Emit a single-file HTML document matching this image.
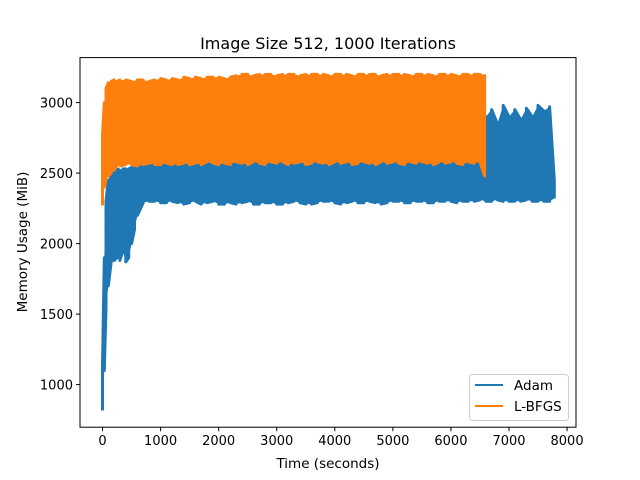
<!DOCTYPE html>
<html><head><meta charset="utf-8"><style>
body{margin:0;background:#fff;}
svg{display:block;font-family:"DejaVu Sans","Liberation Sans",sans-serif;}
</style></head><body>
<svg id="chart" width="640" height="480">
<rect width="640" height="480" fill="#fff"/>
<text x="328" y="49" text-anchor="middle" font-size="16">Image Size 512, 1000 Iterations</text>
<g id="plot"></g>
<rect x="80" y="57.6" width="496" height="369.6" fill="none" stroke="#000" stroke-width="1"/>
<g id="axes"></g>
<text x="328" y="468" text-anchor="middle" font-size="13.5">Time (seconds)</text>
<text transform="translate(27,242) rotate(-90)" text-anchor="middle" font-size="13.5">Memory Usage (MiB)</text>
<g>
<rect x="469.5" y="374.5" width="99" height="46" rx="3" fill="#fff" fill-opacity="0.8" stroke="#ccc"/>
<g><line x1="475" y1="385" x2="503" y2="385" stroke="#1f77b4" stroke-width="2"/><text x="514" y="390" font-size="13.5">Adam</text></g>
<g><line x1="475" y1="406" x2="503" y2="406" stroke="#ff7f0e" stroke-width="2"/><text x="514" y="411" font-size="13.5">L-BFGS</text></g>
</g>
</svg>
<script>
const xTicks=[0,1000,2000,3000,4000,5000,6000,7000,8000];
const yTicks=[1000,1500,2000,2500,3000];
const adamTimes=[0,30,60,100,150,200,250,300,350,400,450,500,550,600,700,800,900,1000,1100,1200,1300,1400,1500,1600,1700,1800,1900,2000,2100,2200,2300,2400,2500,2600,2700,2800,2900,3000,3100,3200,3300,3400,3500,3600,3700,3800,3900,4000,4100,4200,4300,4400,4500,4600,4700,4800,4900,5000,5100,5200,5300,5400,5500,5600,5700,5800,5900,6000,6100,6200,6300,6400,6500,6600,6700,6800,6900,7000,7100,7200,7300,7400,7500,7600,7700,7780];
const adamLow=[817,1100,1550,1700,1870,1880,1900,1880,1950,1870,1900,2000,2100,2200,2290,2300,2300,2290,2290,2300,2290,2280,2290,2300,2280,2290,2300,2280,2280,2290,2280,2290,2300,2280,2280,2290,2290,2280,2280,2290,2300,2290,2280,2280,2290,2300,2300,2290,2280,2290,2300,2290,2290,2300,2290,2280,2290,2300,2300,2290,2290,2300,2300,2290,2290,2300,2300,2300,2290,2300,2300,2300,2310,2300,2300,2310,2300,2300,2300,2300,2310,2300,2300,2300,2300,2320];
const adamHigh=[1130,1900,2300,2450,2530,2520,2530,2520,2530,2530,2530,2540,2540,2550,2560,2560,2570,2560,2570,2580,2560,2570,2580,2570,2560,2580,2570,2600,2580,2570,2650,2600,2620,2600,2700,2620,2600,2680,2600,2610,2700,2620,2600,2650,2620,2600,2680,2620,2600,2640,2610,2620,2700,2650,2620,2640,2600,2680,2620,2650,2700,2620,2640,2680,2650,2620,2700,2650,2660,2680,2700,2650,2700,2900,2950,2850,2980,2900,2950,2880,2960,2900,2980,2940,2970,2450];
const lbfgsTimes=[0,30,60,100,150,200,250,300,400,500,600,700,800,900,1000,1100,1200,1300,1400,1500,1600,1700,1800,1900,2000,2100,2200,2300,2400,2500,2600,2700,2800,2900,3000,3100,3200,3300,3400,3500,3600,3700,3800,3900,4000,4100,4200,4300,4400,4500,4600,4700,4800,4900,5000,5100,5200,5300,5400,5500,5600,5700,5800,5900,6000,6100,6200,6300,6400,6500,6580];
const lbfgsLow=[2270,2400,2450,2480,2500,2520,2560,2550,2560,2560,2550,2560,2570,2560,2560,2570,2560,2560,2570,2560,2570,2560,2580,2570,2560,2570,2560,2580,2570,2560,2580,2570,2560,2580,2570,2580,2560,2570,2580,2560,2570,2580,2570,2560,2580,2570,2580,2560,2570,2580,2570,2560,2580,2570,2580,2570,2560,2580,2570,2580,2570,2560,2580,2570,2580,2570,2560,2580,2570,2580,2480];
const lbfgsHigh=[2770,3000,3100,3140,3150,3160,3150,3160,3160,3150,3160,3160,3150,3160,3170,3160,3170,3160,3180,3170,3180,3170,3180,3180,3180,3170,3180,3190,3200,3200,3190,3200,3200,3200,3190,3200,3200,3200,3190,3200,3200,3200,3200,3190,3200,3200,3200,3190,3200,3200,3200,3200,3190,3200,3200,3200,3200,3190,3200,3200,3200,3190,3200,3200,3200,3190,3200,3200,3200,3200,3200];
const X0=80,X1=576,Y0=427.2,Y1=57.6,xmin=-388,xmax=8154,ymin=698,ymax=3319;
const sx=v=>X0+(v-xmin)/(xmax-xmin)*(X1-X0);
const sy=v=>Y0-(v-ymin)/(ymax-ymin)*(Y0-Y1);
const NS="http://www.w3.org/2000/svg";
const plot=document.getElementById('plot'),axes=document.getElementById('axes');
function series(t,lo,hi,color,name){
  let pts=[];
  for(let i=0;i<t.length;i++){
    const a=[sx(t[i]).toFixed(1),sy(lo[i]).toFixed(1)],b=[sx(t[i]).toFixed(1),sy(hi[i]).toFixed(1)];
    if(i%2){pts.push(b.join(','),a.join(','));}else{pts.push(a.join(','),b.join(','));}
  }
  const p=document.createElementNS(NS,'polyline');
  p.setAttribute('points',pts.join(' '));
  p.setAttribute('fill','none');p.setAttribute('stroke',color);p.setAttribute('stroke-width','3');
  p.setAttribute('stroke-linejoin','round');
  
  
  plot.appendChild(p);
  // band fill
  let poly=[];
  for(let i=0;i<t.length;i++)poly.push(sx(t[i]).toFixed(1)+','+sy(hi[i]).toFixed(1));
  for(let i=t.length-1;i>=0;i--)poly.push(sx(t[i]).toFixed(1)+','+sy(lo[i]).toFixed(1));
  const g=document.createElementNS(NS,'polygon');
  g.setAttribute('points',poly.join(' '));g.setAttribute('fill',color);
  
  
  plot.appendChild(g);
}
series(adamTimes,adamLow,adamHigh,'#1f77b4','adam-line');
series(lbfgsTimes,lbfgsLow,lbfgsHigh,'#ff7f0e','lbfgs-line');
xTicks.forEach(v=>{
  const x=sx(v);
  const l=document.createElementNS(NS,'line');
  l.setAttribute('x1',x);l.setAttribute('x2',x);l.setAttribute('y1',Y0);l.setAttribute('y2',Y0+4);l.setAttribute('stroke','#000');
  
  
  axes.appendChild(l);
  const tx=document.createElementNS(NS,'text');
  tx.setAttribute('x',x);tx.setAttribute('y',Y0+18);tx.setAttribute('text-anchor','middle');tx.setAttribute('font-size','13');
  tx.textContent=v;
  
  
  axes.appendChild(tx);
});
yTicks.forEach(v=>{
  const y=sy(v);
  const l=document.createElementNS(NS,'line');
  l.setAttribute('x1',X0-4);l.setAttribute('x2',X0);l.setAttribute('y1',y);l.setAttribute('y2',y);l.setAttribute('stroke','#000');
  
  
  axes.appendChild(l);
  const tx=document.createElementNS(NS,'text');
  tx.setAttribute('x',X0-7);tx.setAttribute('y',y+5);tx.setAttribute('text-anchor','end');tx.setAttribute('font-size','13');
  tx.textContent=v;
  
  
  axes.appendChild(tx);
});
</script>
</body></html>
